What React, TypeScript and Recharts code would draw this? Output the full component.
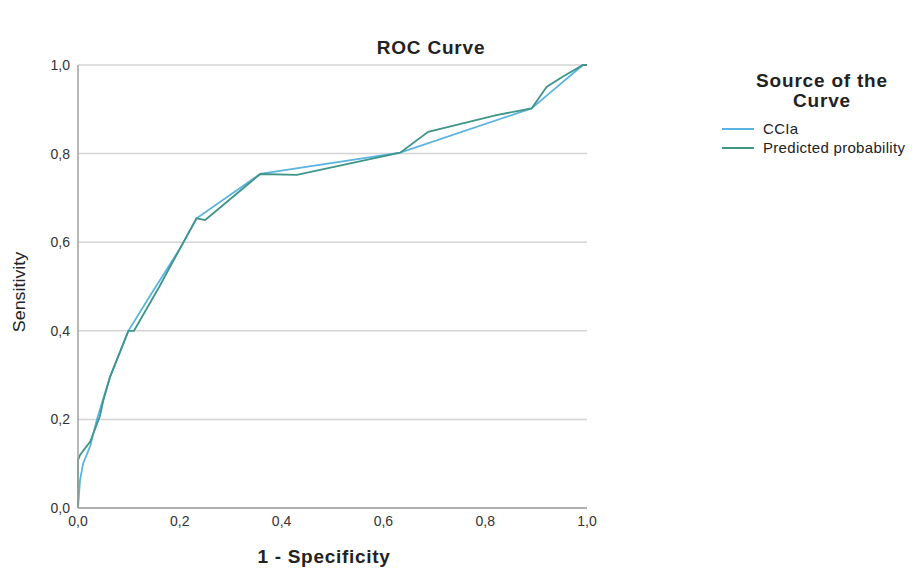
import { CartesianGrid, Line, LineChart, XAxis, YAxis } from 'recharts'

// ROC points (x = 1 - specificity, y = sensitivity)
const ccIaX = [0, 0.004, 0.01, 0.024, 0.037, 0.05, 0.063, 0.099, 0.141, 0.2, 0.233, 0.358, 0.633, 0.891, 0.93, 0.992, 1]
const ccIaY = [0, 0.063, 0.1, 0.14, 0.199, 0.248, 0.296, 0.4, 0.478, 0.585, 0.654, 0.754, 0.802, 0.902, 0.94, 1, 1]

const predX = [0, 0, 0.004, 0.024, 0.043, 0.05, 0.063, 0.099, 0.11, 0.16, 0.2, 0.233, 0.25, 0.358, 0.43, 0.633, 0.688, 0.822, 0.891, 0.921, 0.953, 0.992, 1]
const predY = [0, 0.108, 0.12, 0.15, 0.207, 0.244, 0.296, 0.4, 0.4, 0.5, 0.585, 0.654, 0.65, 0.754, 0.752, 0.802, 0.849, 0.887, 0.902, 0.951, 0.974, 1, 1]

const ticks = [0, 0.2, 0.4, 0.6, 0.8, 1]

const BLUE = '#5ab3e2'
const GREEN = '#3f9589'
const FONT = '"Liberation Sans", Arial, sans-serif'

const ccIa = ccIaX.map((x, i) => ({ x, y: ccIaY[i] }))
const pred = predX.map((x, i) => ({ x, y: predY[i] }))

const fmt = (v: number) => v.toFixed(1).replace('.', ',')

export default function App() {
  return (
    <div style={{ position: 'absolute', left: 0, top: 0, width: 914, height: 570, background: '#fff', fontFamily: FONT }}>
      <LineChart width={914} height={570} margin={{ top: 65, right: 327, bottom: 32, left: 18 }}>
        <CartesianGrid vertical={false} stroke="#d4d4d4" strokeWidth={1.5} />
        <XAxis
          type="number"
          dataKey="x"
          domain={[0, 1]}
          ticks={ticks}
          tickFormatter={fmt}
          height={30}
          tickSize={0}
          tickMargin={8}
          stroke="#a0a0a0"
          strokeWidth={1.5}
          tick={{ fontSize: 14, fill: '#333', fontFamily: FONT }}
          allowDuplicatedCategory={false}
        />
        <YAxis
          type="number"
          dataKey="y"
          domain={[0, 1]}
          ticks={ticks}
          tickFormatter={fmt}
          width={60}
          tickSize={0}
          tickMargin={8}
          stroke="#a0a0a0"
          strokeWidth={1.5}
          tick={{ fontSize: 14, fill: '#333', fontFamily: FONT }}
        />
        <Line data={ccIa} dataKey="y" type="linear" stroke={BLUE} strokeWidth={1.8} dot={false} isAnimationActive={false} />
        <Line data={pred} dataKey="y" type="linear" stroke={GREEN} strokeWidth={1.8} dot={false} isAnimationActive={false} />
      </LineChart>

      <div style={{ position: 'absolute', left: 331, top: 37, width: 200, textAlign: 'center', fontWeight: 'bold', fontSize: 19, letterSpacing: 0.8, color: '#222' }}>
        ROC Curve
      </div>
      <div
        style={{
          position: 'absolute',
          left: 20,
          top: 292,
          transform: 'translate(-50%, -50%) rotate(-90deg) scaleX(1.05)',
          fontSize: 17,
          color: '#222',
          whiteSpace: 'nowrap',
        }}
      >
        Sensitivity
      </div>
      <div style={{ position: 'absolute', left: 174, top: 546, width: 300, textAlign: 'center', fontWeight: 'bold', fontSize: 19, letterSpacing: 0.7, color: '#222' }}>
        1 - Specificity
      </div>

      <div style={{ position: 'absolute', left: 672, top: 71, width: 300, textAlign: 'center', fontWeight: 'bold', fontSize: 19, lineHeight: '20px', letterSpacing: 0.8, color: '#222' }}>
        Source of the
        <br />
        Curve
      </div>
      {[
        { name: 'CCIa', color: BLUE, top: 120 },
        { name: 'Predicted probability', color: GREEN, top: 139 },
      ].map((it) => (
        <div key={it.name} style={{ position: 'absolute', left: 722, top: it.top, display: 'flex', alignItems: 'center', fontSize: 15, letterSpacing: 0.3, color: '#222', whiteSpace: 'nowrap' }}>
          <span style={{ display: 'inline-block', width: 32, height: 2, background: it.color, marginRight: 9 }} />
          {it.name}
        </div>
      ))}
    </div>
  )
}
